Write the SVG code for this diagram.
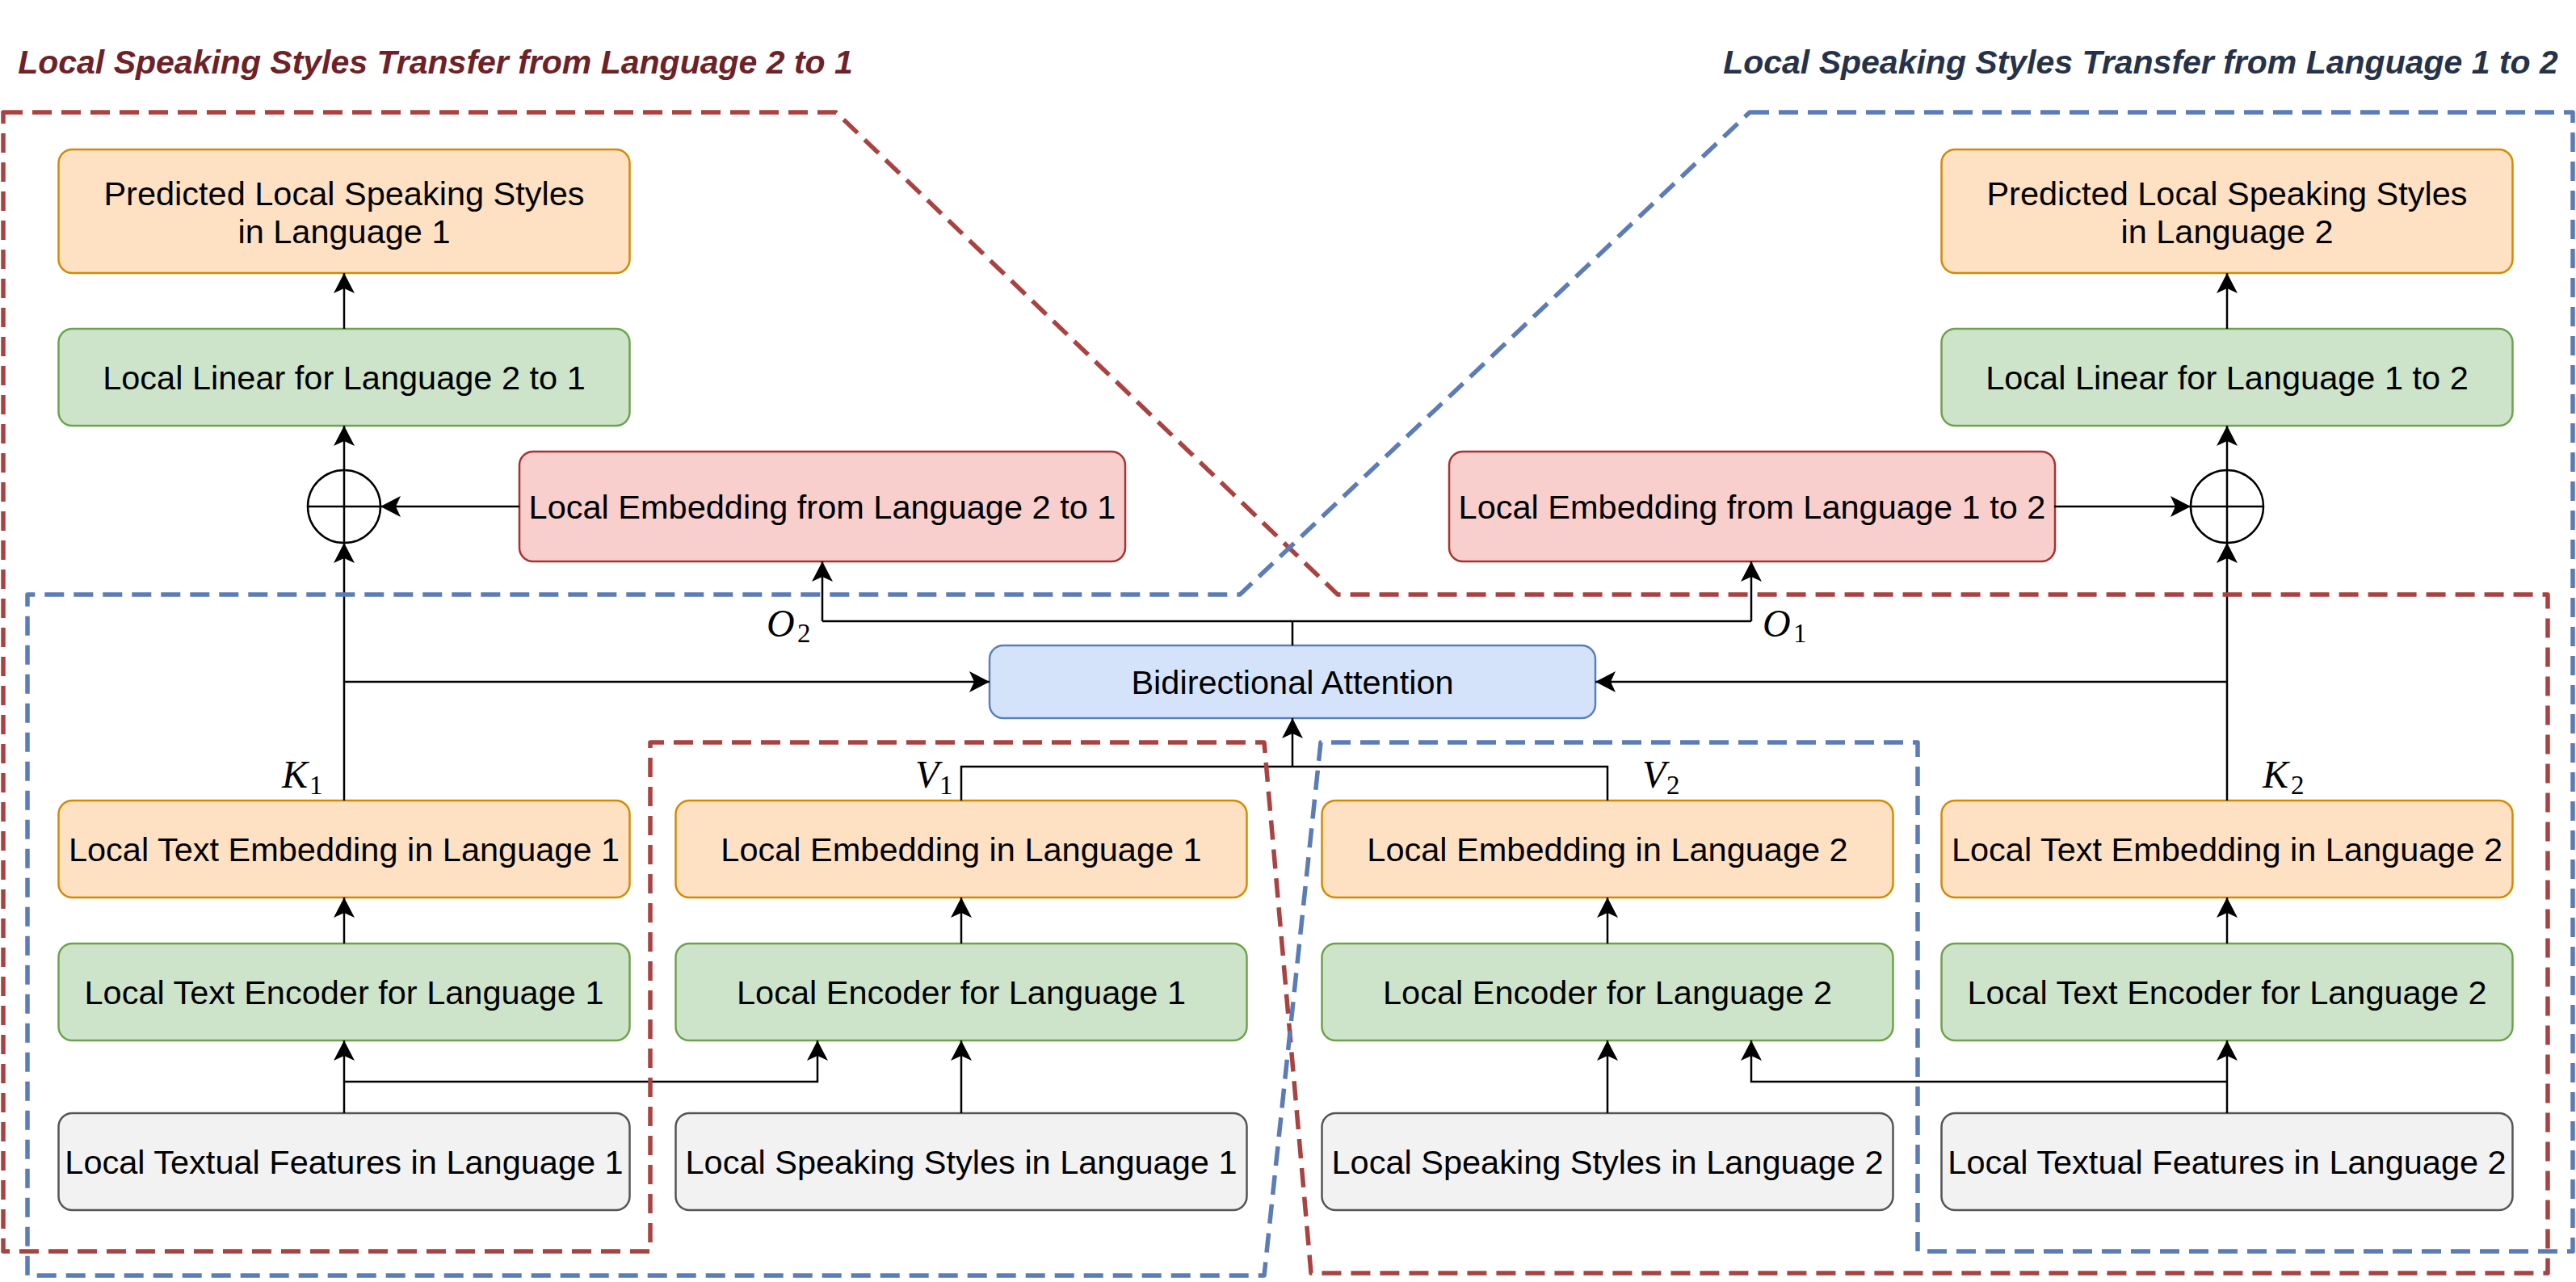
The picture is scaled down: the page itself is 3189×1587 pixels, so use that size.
<svg xmlns="http://www.w3.org/2000/svg" width="3189" height="1587" viewBox="0 0 3189 1587">
<style>
  .t{font-family:"Liberation Sans",Arial,Helvetica,sans-serif;font-size:41.5px;fill:#000;text-anchor:middle}
  .title{font-family:"Liberation Sans",Arial,Helvetica,sans-serif;font-size:41px;font-weight:bold;font-style:italic;text-anchor:middle}
  .m{font-family:"Liberation Serif","Times New Roman",serif;font-size:48px;font-style:italic;fill:#000}
  .s{font-family:"Liberation Serif","Times New Roman",serif;font-size:33px;font-style:normal;fill:#000}
  .or{fill:#fee0c3;stroke:#d38b00;stroke-width:2.5}
  .gr{fill:#cde4ca;stroke:#6da34d;stroke-width:2.5}
  .rd{fill:#f8cfcc;stroke:#a8322d;stroke-width:2.5}
  .bl{fill:#d4e3fa;stroke:#5a7fba;stroke-width:2.5}
  .gy{fill:#f2f2f2;stroke:#555555;stroke-width:2.5}
  .c{fill:none;stroke:#000;stroke-width:2.5}
  .a{fill:none;stroke:#000;stroke-width:2.5;marker-end:url(#arr)}
  .dr{fill:none;stroke:#aa4242;stroke-width:5.5;stroke-dasharray:24 12;stroke-linejoin:round}
  .db{fill:none;stroke:#5b7cb6;stroke-width:5.5;stroke-dasharray:24 12;stroke-linejoin:round}
</style>
<defs>
  <marker id="arr" markerUnits="userSpaceOnUse" viewBox="-26 -14 28 28" refX="0" refY="0" markerWidth="28" markerHeight="28" orient="auto">
    <path d="M0,0 L-25,-13 L-19,0 L-25,13 Z" fill="#000"/>
  </marker>
</defs>
<rect width="3189" height="1587" fill="#ffffff"/>

<text class="title" x="539" y="91" fill="#6e2126">Local Speaking Styles Transfer from Language 2 to 1</text>
<text class="title" x="2650" y="91" fill="#26324a">Local Speaking Styles Transfer from Language 1 to 2</text>

<g id="predicted1"><rect class="or" x="72.5" y="185" width="707" height="153" rx="17"/>
<text class="t" x="426" y="254">Predicted Local Speaking Styles</text><text class="t" x="426" y="301">in Language 1</text></g>
<g id="linear21"><rect class="gr" x="72.5" y="407" width="707" height="120" rx="17"/><text class="t" x="426" y="482">Local Linear for Language 2 to 1</text></g>
<g id="sum1"><circle class="c" cx="426" cy="627" r="45"/><path class="c" d="M381,627 H471 M426,582 V672"/></g>
<g id="emb21"><rect class="rd" x="643" y="559" width="750" height="136" rx="17"/><text class="t" x="1018" y="642">Local Embedding from Language 2 to 1</text></g>

<g id="predicted2"><rect class="or" x="2403.5" y="185" width="707" height="153" rx="17"/>
<text class="t" x="2757" y="254">Predicted Local Speaking Styles</text><text class="t" x="2757" y="301">in Language 2</text></g>
<g id="linear12"><rect class="gr" x="2403.5" y="407" width="707" height="120" rx="17"/><text class="t" x="2757" y="482">Local Linear for Language 1 to 2</text></g>
<g id="sum2"><circle class="c" cx="2757" cy="627" r="45"/><path class="c" d="M2712,627 H2802 M2757,582 V672"/></g>
<g id="emb12"><rect class="rd" x="1794" y="559" width="750" height="136" rx="17"/><text class="t" x="2169" y="642">Local Embedding from Language 1 to 2</text></g>

<g id="attention"><rect class="bl" x="1225" y="799" width="750" height="90" rx="17"/><text class="t" x="1600" y="859">Bidirectional Attention</text></g>

<g id="textemb1"><rect class="or" x="72.5" y="991" width="707" height="120" rx="17"/><text class="t" x="426" y="1066">Local Text Embedding in Language 1</text></g>
<g id="emb1"><rect class="or" x="836.5" y="991" width="707" height="120" rx="17"/><text class="t" x="1190" y="1066">Local Embedding in Language 1</text></g>
<g id="emb2"><rect class="or" x="1636.5" y="991" width="707" height="120" rx="17"/><text class="t" x="1990" y="1066">Local Embedding in Language 2</text></g>
<g id="textemb2"><rect class="or" x="2403.5" y="991" width="707" height="120" rx="17"/><text class="t" x="2757" y="1066">Local Text Embedding in Language 2</text></g>

<g id="textenc1"><rect class="gr" x="72.5" y="1168" width="707" height="120" rx="17"/><text class="t" x="426" y="1243">Local Text Encoder for Language 1</text></g>
<g id="enc1"><rect class="gr" x="836.5" y="1168" width="707" height="120" rx="17"/><text class="t" x="1190" y="1243">Local Encoder for Language 1</text></g>
<g id="enc2"><rect class="gr" x="1636.5" y="1168" width="707" height="120" rx="17"/><text class="t" x="1990" y="1243">Local Encoder for Language 2</text></g>
<g id="textenc2"><rect class="gr" x="2403.5" y="1168" width="707" height="120" rx="17"/><text class="t" x="2757" y="1243">Local Text Encoder for Language 2</text></g>

<g id="feat1"><rect class="gy" x="72.5" y="1378" width="707" height="120" rx="17"/><text class="t" x="426" y="1453">Local Textual Features in Language 1</text></g>
<g id="styles1"><rect class="gy" x="836.5" y="1378" width="707" height="120" rx="17"/><text class="t" x="1190" y="1453">Local Speaking Styles in Language 1</text></g>
<g id="styles2"><rect class="gy" x="1636.5" y="1378" width="707" height="120" rx="17"/><text class="t" x="1990" y="1453">Local Speaking Styles in Language 2</text></g>
<g id="feat2"><rect class="gy" x="2403.5" y="1378" width="707" height="120" rx="17"/><text class="t" x="2757" y="1453">Local Textual Features in Language 2</text></g>

<g id="connectors">
  <path class="a" d="M426,407 V338"/>
  <path class="a" d="M426,582 V527"/>
  <path class="a" d="M426,991 V672"/>
  <path class="a" d="M643,627 H471"/>
  <path class="a" d="M426,844 H1225"/>
  <path class="a" d="M426,1168 V1111"/>
  <path class="a" d="M426,1378 V1288"/>
  <path class="a" d="M426,1339 H1012 V1288"/>
  <path class="a" d="M1190,1168 V1111"/>
  <path class="a" d="M1190,1378 V1288"/>
  <path class="c" d="M1190,991 V949 H1990 V991"/>
  <path class="a" d="M1600,949 V889"/>
  <path class="c" d="M1600,799 V769 M1018,769 H2168"/>
  <path class="a" d="M1018,769 V695"/>
  <path class="a" d="M2168,769 V695"/>
  <path class="a" d="M1990,1168 V1111"/>
  <path class="a" d="M1990,1378 V1288"/>
  <path class="a" d="M2757,1378 V1288"/>
  <path class="a" d="M2757,1339 H2168 V1288"/>
  <path class="a" d="M2757,1168 V1111"/>
  <path class="a" d="M2757,991 V672"/>
  <path class="a" d="M2757,844 H1975"/>
  <path class="a" d="M2543,627 H2712"/>
  <path class="a" d="M2757,582 V527"/>
  <path class="a" d="M2757,407 V338"/>
</g>

<g id="labels">
  <text class="m" x="349" y="975">K</text><text class="s" x="383" y="983">1</text>
  <text class="m" x="1133" y="975">V</text><text class="s" x="1163" y="983">1</text>
  <text class="m" x="2033" y="975">V</text><text class="s" x="2063" y="983">2</text>
  <text class="m" x="2801" y="975">K</text><text class="s" x="2836" y="983">2</text>
  <text class="m" x="949" y="788">O</text><text class="s" x="987" y="795">2</text>
  <text class="m" x="2182" y="788">O</text><text class="s" x="2220" y="795">1</text>
</g>

<g id="regions">
  <path class="dr" d="M4,139 H1035 L1656,736 H3154 V1576 H1623 L1565,919 H805 V1549 H4 Z"/>
  <path class="db" d="M2166,139 H3185 V1549 H2374 V919 H1635 L1565,1579 H34 V736 H1535 Z"/>
</g>
</svg>
